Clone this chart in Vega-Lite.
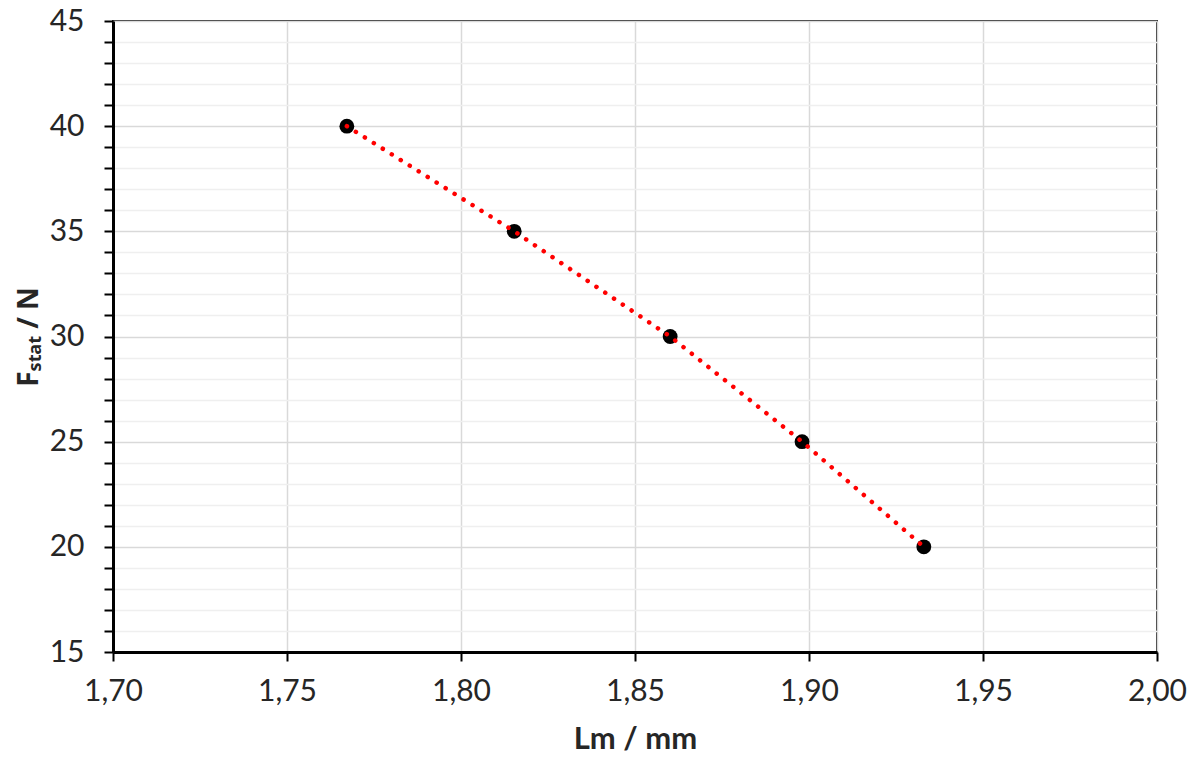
{
  "$schema": "https://vega.github.io/schema/vega-lite/v6.json",
  "width": 1044,
  "height": 631,
  "autosize": {"type": "none"},
  "padding": {"left": 113, "top": 21, "right": 36, "bottom": 106},
  "background": "white",
  "config": {
    "view": {"stroke": "#262626", "strokeWidth": 2},
    "font": "Lato, 'DejaVu Sans', sans-serif"
  },
  "data": {
    "values": [
      {"L": 1.7672, "F": 40},
      {"L": 1.8153, "F": 35},
      {"L": 1.8601, "F": 30},
      {"L": 1.8980, "F": 25},
      {"L": 1.9330, "F": 20}
    ]
  },
  "encoding": {
    "x": {
      "field": "L",
      "type": "quantitative",
      "scale": {"domain": [1.7, 2.0], "nice": false, "zero": false},
      "axis": {
        "title": "Lm / mm",
        "values": [1.7, 1.75, 1.8, 1.85, 1.9, 1.95, 2.0],
        "labelExpr": "replace(format(datum.value, '.2f'), '.', ',')",
        "labelFont": "Lato, 'DejaVu Sans', sans-serif",
        "labelFontSize": 30,
        "labelColor": "#262626",
        "labelPadding": 15,
        "labelFlush": false,
        "titleFont": "Lato, 'DejaVu Sans', sans-serif",
        "titleFontSize": 31,
        "titleFontWeight": "bold",
        "titleColor": "#262626",
        "titlePadding": 18,
        "domainColor": "black",
        "domainWidth": 3,
        "tickColor": "black",
        "tickWidth": 2,
        "tickSize": 9,
        "grid": true,
        "gridColor": "#d9d9d9",
        "gridWidth": 1.5
      }
    },
    "y": {
      "field": "F",
      "type": "quantitative",
      "scale": {"domain": [15, 45], "nice": false, "zero": false},
      "axis": {
        "title": "Fₛₜₐₜ / N",
        "values": [15,16,17,18,19,20,21,22,23,24,25,26,27,28,29,30,31,32,33,34,35,36,37,38,39,40,41,42,43,44,45],
        "labelExpr": "datum.value % 5 === 0 ? datum.label : ''",
        "labelFont": "Lato, 'DejaVu Sans', sans-serif",
        "labelFontSize": 30,
        "labelColor": "#262626",
        "labelPadding": 20,
        "labelFlush": false,
        "titleFont": "'Noto Sans', 'DejaVu Sans', sans-serif",
        "titleFontSize": 28,
        "titleFontWeight": "bold",
        "titleColor": "#262626",
        "titlePadding": 6,
        "domainColor": "black",
        "domainWidth": 3,
        "tickColor": "black",
        "tickWidth": 2,
        "tickSize": 9,
        "grid": true,
        "gridColor": {"condition": {"test": "datum.value % 5 === 0", "value": "#d9d9d9"}, "value": "#efefef"},
        "gridWidth": 1.5
      }
    }
  },
  "layer": [
    {
      "mark": {"type": "point", "filled": true, "color": "black", "size": 220, "opacity": 1}
    },
    {
      "mark": {"type": "line", "color": "#ff0000", "strokeWidth": 4.5, "strokeCap": "round", "strokeDash": [0.1, 10.5]},
      "encoding": {"order": {"field": "L", "type": "quantitative"}}
    }
  ]
}
